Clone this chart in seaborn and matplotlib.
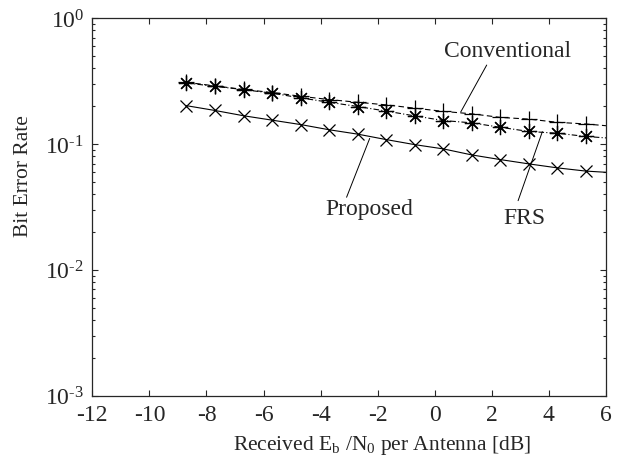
import numpy as np
import pandas as pd
import seaborn as sns
import matplotlib
matplotlib.use("Agg")
import matplotlib.pyplot as plt
from matplotlib.ticker import LogLocator, FuncFormatter, FixedLocator, NullFormatter

# ---- data ----
snr_marks = [-8.7, -7.7, -6.7, -5.7, -4.7, -3.7, -2.7, -1.7, -0.7, 0.3, 1.3, 2.3, 3.3, 4.3, 5.3]
snr_end = 6.0
ber_conventional = [0.310, 0.290, 0.272, 0.257, 0.240, 0.226, 0.215, 0.205, 0.193, 0.182,
                    0.174, 0.163, 0.158, 0.149, 0.1445]
ber_frs = [0.306, 0.288, 0.271, 0.254, 0.233, 0.215, 0.199, 0.183, 0.1675, 0.154,
           0.1475, 0.136, 0.126, 0.122, 0.115]
ber_proposed = [0.202, 0.185, 0.168, 0.155, 0.143, 0.130, 0.120, 0.1086, 0.099, 0.0916,
                0.082, 0.0753, 0.0696, 0.0647, 0.061]
end_conventional = 0.140
end_frs = 0.112
end_proposed = 0.0597

x_ticks = [-12, -10, -8, -6, -4, -2, 0, 2, 4, 6]

sns.set_style("ticks")
plt.rcParams['font.family'] = ['Liberation Serif', 'DejaVu Serif']
plt.rcParams['mathtext.fontset'] = 'custom'
plt.rcParams['mathtext.rm'] = 'Liberation Serif'
plt.rcParams['mathtext.it'] = 'Liberation Serif:italic'
plt.rcParams['axes.unicode_minus'] = False

fig = plt.figure(figsize=(6.24, 4.64), dpi=100)
ax = fig.add_axes([92.3/624, 1-396.7/464, (606-92.3)/624, (396.7-19.3)/464])

x_line = snr_marks + [snr_end]
series = [
    ("Conventional", ber_conventional + [end_conventional], '+', (0, (5, 3)), 11),
    ("FRS", ber_frs + [end_frs], (8, 2, 0), (0, (5, 2, 1, 2)), 11),
    ("Proposed", ber_proposed + [end_proposed], 'x', '-', 8),
]
for name, ys, mk, ls, ms in series:
    df = pd.DataFrame({"x": x_line, "y": ys})
    sns.lineplot(data=df, x="x", y="y", ax=ax, color='k', linewidth=0.8,
                 linestyle=ls, marker=mk, markersize=ms, markeredgewidth=0.9,
                 markerfacecolor='k', markeredgecolor='k',
                 markevery=list(range(len(snr_marks))), sort=False,
                 estimator=None, legend=False)

ax.set_yscale('log')
ax.set_xlim(-12, 6)
ax.set_ylim(1e-3, 1)
ax.xaxis.set_major_locator(FixedLocator(x_ticks))
ax.set_xticklabels([str(t) for t in x_ticks])
ax.yaxis.set_major_locator(LogLocator(base=10, numticks=10))

def log_fmt(v, pos):
    e = int(round(np.log10(v)))
    if e < 0:
        return r"$10^{\text{-}%d}$" % (-e)
    return r"$10^{%d}$" % e

ax.yaxis.set_major_formatter(FuncFormatter(log_fmt))
ax.yaxis.set_minor_locator(LogLocator(base=10, subs=np.arange(2, 10), numticks=20))
ax.yaxis.set_minor_formatter(NullFormatter())

ax.tick_params(axis='both', which='both', direction='in', top=True, right=True,
               labelsize=17, width=0.8, pad=6)
ax.tick_params(axis='both', which='major', length=4)
ax.tick_params(axis='both', which='minor', length=2)
for s in ax.spines.values():
    s.set_linewidth(0.9)
    s.set_visible(True)

ax.set_xlabel(r"Received E$_\mathrm{b}$ /N$_\mathrm{0}$ per Antenna [dB]", fontsize=15.5, labelpad=3)
ax.xaxis.set_label_coords(0.564, -0.1)
ax.set_ylabel("Bit Error Rate", fontsize=15.5)
ax.yaxis.set_label_coords(-0.115, 0.585)

# annotations
def ann(text, txt_xy, start_xy, end_xy):
    ax.text(txt_xy[0], txt_xy[1], text, fontsize=17, ha='center', va='center')
    ax.annotate('', xy=end_xy, xytext=start_xy,
                arrowprops=dict(arrowstyle='-', lw=0.7, color='k', shrinkA=0, shrinkB=0))

ann("Conventional", (2.55, 0.55), (1.82, 0.425), (0.91, 0.18))
ann("Proposed", (-2.28, 0.0305), (-3.09, 0.0378), (-2.28, 0.111))
ann("FRS", (3.15, 0.0263), (2.92, 0.0355), (3.77, 0.1256))

fig.savefig("out.png", dpi=100)
